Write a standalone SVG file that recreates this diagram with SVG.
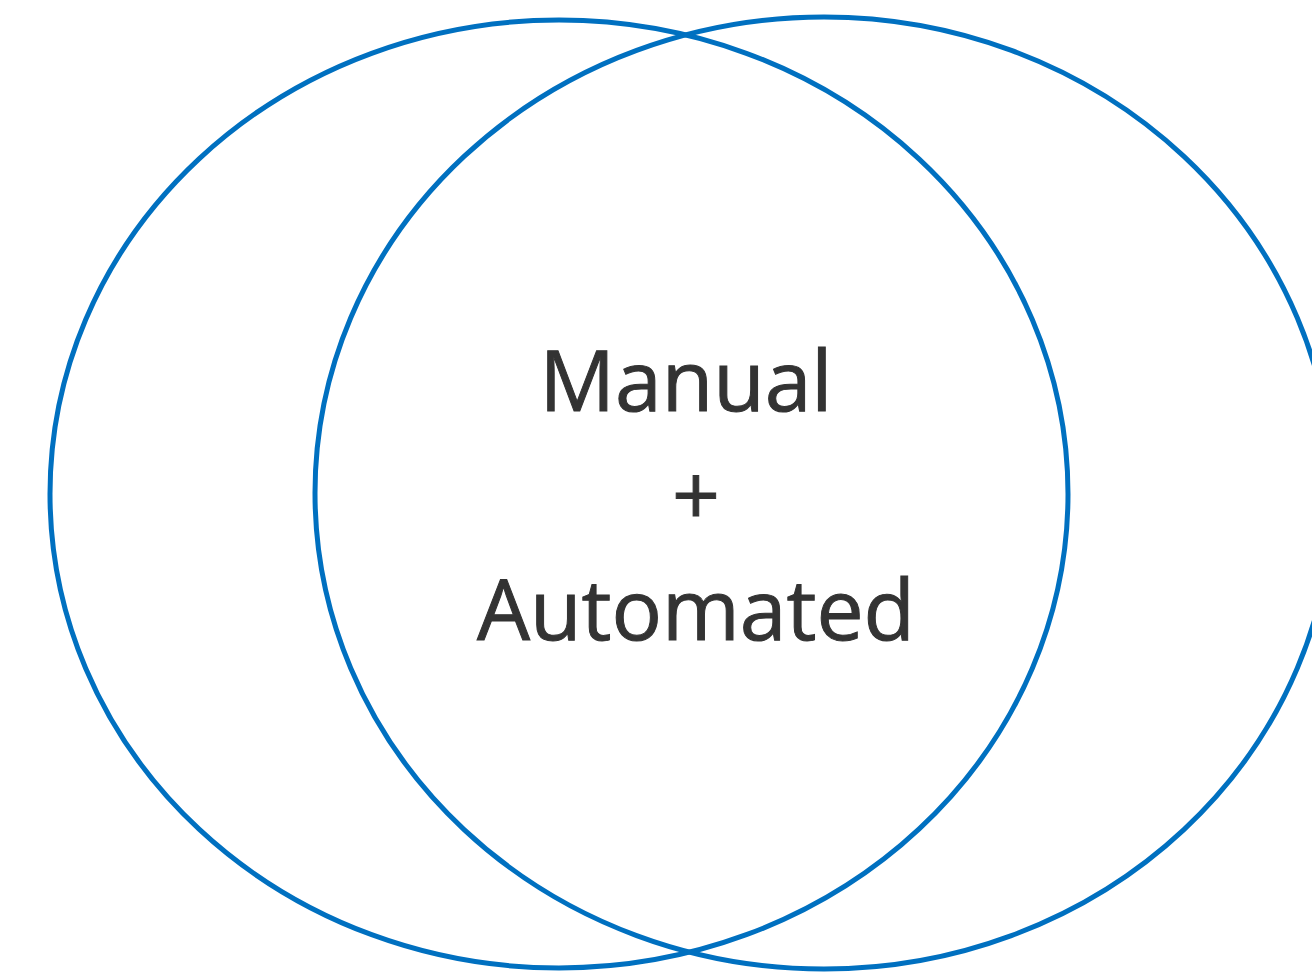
<svg xmlns="http://www.w3.org/2000/svg" width="1312" height="972" viewBox="0 0 1312 972">
  <style>
    .ring { fill: none; stroke: #0070C0; stroke-width: 5; }
    .label { font-family: "Open Sans", "Noto Sans", sans-serif; font-size: 84px; fill: #333333; stroke: #333333; stroke-width: 1; text-anchor: middle; }
  </style>
  <rect width="1312" height="972" fill="#ffffff"/>
  <g id="left-circle">
    <ellipse class="ring" cx="559" cy="494" rx="509" ry="474"/>
  </g>
  <g id="right-circle">
    <ellipse class="ring" cx="824" cy="493" rx="509" ry="476"/>
  </g>
  <g id="overlap-label">
    <text class="label" x="686" y="411">Manual</text>
    <text class="label" x="696" y="525">+</text>
    <text class="label" x="696" y="640">Automated</text>
  </g>
</svg>
